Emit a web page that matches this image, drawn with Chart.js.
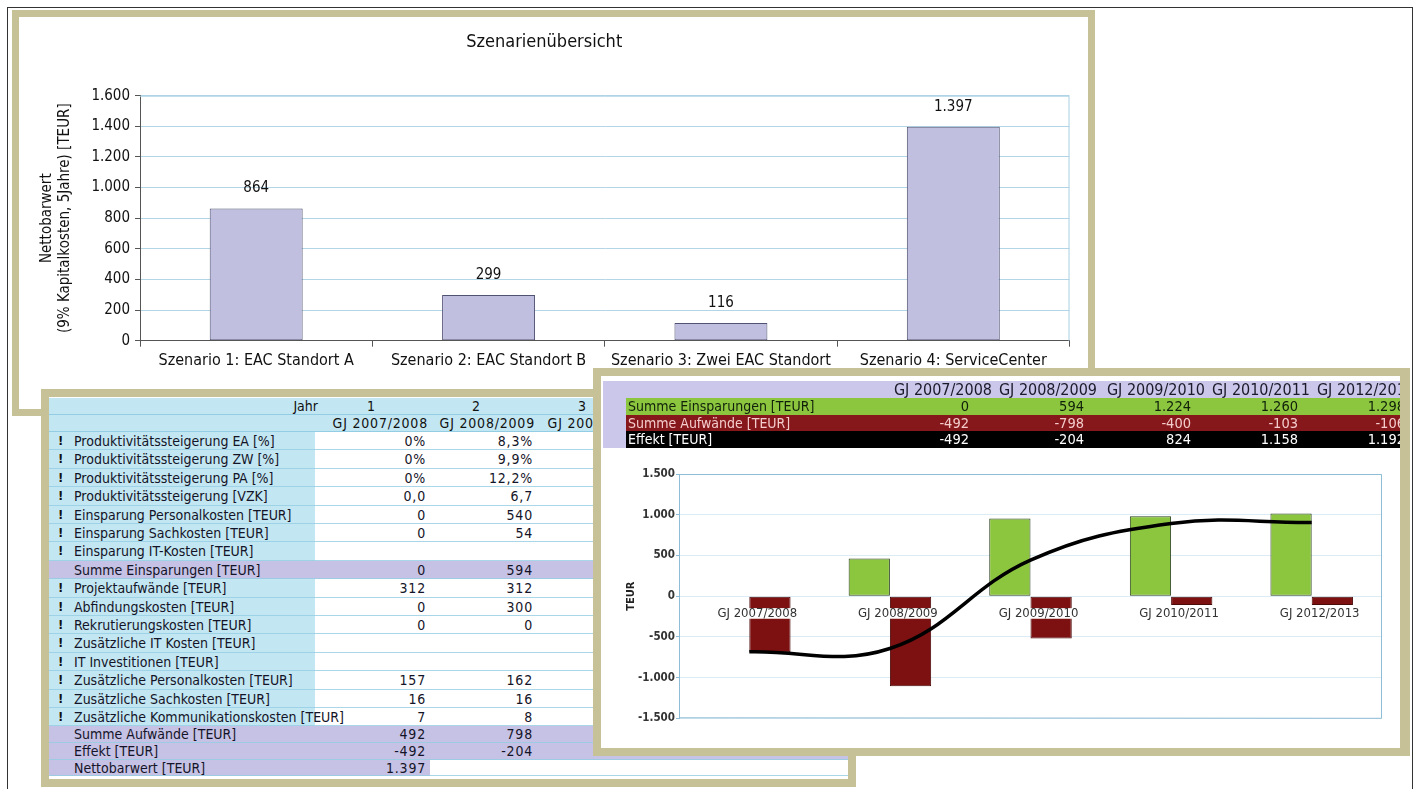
<!DOCTYPE html>
<html><head><meta charset="utf-8">
<script src="https://cdn.jsdelivr.net/npm/chart.js@4.4.1/dist/chart.umd.min.js"></script>
<style>
html,body{margin:0;padding:0;background:#fff;}
body{width:1419px;height:789px;position:relative;overflow:hidden;font-family:'DejaVu Sans Condensed','DejaVu Sans',sans-serif;color:#111;}
.frame{position:absolute;box-sizing:border-box;border:8px solid #c6c197;background:#fff;overflow:hidden;}
.abs{position:absolute;white-space:nowrap;}
</style></head><body>
<div style="position:absolute;left:7px;top:7px;width:1406px;height:800px;border:1px solid #333;box-sizing:border-box"></div>
<div id="p1" class="frame" style="left:12px;top:10px;width:1083px;height:406px;border-width:7px;">
  <canvas id="c1" width="1069" height="392" style="position:absolute;left:0;top:0;width:1069px;height:392px"></canvas>
</div>
<div id="p2" class="frame" style="left:41px;top:389px;width:815px;height:398px;"><div id="t2" class="abs" style="left:0;top:0;width:799px;height:382px;overflow:hidden"></div></div>
<div id="p3" class="frame" style="left:593px;top:368px;width:817px;height:388px;border-right-width:10px;">
  <div id="t3" class="abs" style="left:0;top:0;width:799px;height:74px;overflow:hidden"></div>
  <canvas id="c2" width="799" height="298" style="position:absolute;left:0;top:74px;width:799px;height:298px"></canvas>
</div>
<script>
// ---------- data ----------
const scenarioLabels = ['Szenario 1: EAC Standort A','Szenario 2: EAC Standort B','Szenario 3: Zwei EAC Standort','Szenario 4: ServiceCenter'];
const scenarioValues = [864, 299, 116, 1397];

const fyLabels = ['GJ 2007/2008','GJ 2008/2009','GJ 2009/2010','GJ 2010/2011','GJ 2012/2013'];
const savingsBars = [0, 463, 954, 982, 1015];
const costBars = [-688, -1105, -520, -110, -110];
const effectLine = [-684, -643, 442, 892, 905];

const summaryRowLabels = ['Summe Einsparungen [TEUR]','Summe Aufwände [TEUR]','Effekt [TEUR]'];
const summarySavings = ['0','594','1.224','1.260','1.298'];
const summaryCosts = ['-492','-798','-400','-103','-106'];
const summaryEffect = ['-492','-204','824','1.158','1.192'];

const tableYears = ['1','2','3'];
const tableRowLabels = ['Produktivitätssteigerung EA [%]','Produktivitätssteigerung ZW [%]','Produktivitätssteigerung PA [%]','Produktivitätssteigerung [VZK]','Einsparung Personalkosten [TEUR]','Einsparung Sachkosten [TEUR]','Einsparung IT-Kosten [TEUR]','Summe Einsparungen [TEUR]','Projektaufwände [TEUR]','Abfindungskosten [TEUR]','Rekrutierungskosten [TEUR]','Zusätzliche IT Kosten [TEUR]','IT Investitionen [TEUR]','Zusätzliche Personalkosten [TEUR]','Zusätzliche Sachkosten [TEUR]','Zusätzliche Kommunikationskosten [TEUR]','Summe Aufwände [TEUR]','Effekt [TEUR]','Nettobarwert [TEUR]'];
const tableYear1 = ['0%','0%','0%','0,0','0','0','','0','312','0','0','','','157','16','7','492','-492','1.397'];
const tableYear2 = ['8,3%','9,9%','12,2%','6,7','540','54','','594','312','300','0','','','162','16','8','798','-204',''];
const tableRowIsSum = [0,0,0,0,0,0,0,1,0,0,0,0,0,0,0,0,1,1,1];

// ---------- helpers ----------
const FONT = "'DejaVu Sans Condensed','DejaVu Sans',sans-serif";
Chart.defaults.font.family = FONT;
function deNum(v){
  const s = Math.abs(Math.round(v)).toString().replace(/\B(?=(\d{3})+(?!\d))/g,'.');
  return (v < 0 ? '-' : '') + s;
}
function el(parent, css, text){
  const d = document.createElement('div');
  d.className = 'abs';
  d.style.cssText += css;
  if (text !== undefined) d.textContent = text;
  parent.appendChild(d);
  return d;
}

// ---------- left table ----------
(function(){
  const t = document.getElementById('t2');
  const BLUE = '#c3e7f2', LINE = '#93cde4', PURPLE = '#c6c2e5';
  el(t, `left:0;top:1px;width:799px;height:34px;background:${BLUE};`);
  el(t, `left:0;top:17px;width:799px;height:1px;background:${LINE};`);
  el(t, `left:0;top:34px;width:799px;height:1px;background:${LINE};`);
  el(t, `left:0;top:1px;width:269px;height:17px;line-height:17px;text-align:right;font-size:14px;`, 'Jahr');
  const yearCenters = [322, 427, 533], gjRight = [379, 486, 594];
  tableYears.forEach((y,i)=>{
    el(t, `left:${yearCenters[i]-20}px;top:1px;width:40px;height:17px;line-height:17px;text-align:center;font-size:14px;`, y);
    el(t, `left:${gjRight[i]-120}px;top:18px;width:120px;height:17px;line-height:17px;text-align:right;font-size:14px;letter-spacing:0.8px;`, fyLabels[i]);
  });
  const tops = [], hs = [];
  for (let i=0;i<16;i++){ tops.push(35+18.4*i); hs.push(18.4); }
  tops.push(329.4); hs.push(16.6);
  tops.push(346); hs.push(17);
  tops.push(363); hs.push(16);
  const valRight = [377, 484];
  tableRowLabels.forEach((lab,i)=>{
    const top = tops[i], h = hs[i], sum = tableRowIsSum[i];
    const isLast = i === tableRowLabels.length-1;
    if (sum){
      el(t, `left:0;top:${top}px;width:${isLast?381:799}px;height:${h}px;background:${PURPLE};`);
    } else {
      el(t, `left:0;top:${top}px;width:266px;height:${h}px;background:${BLUE};`);
    }
    el(t, `left:0;top:${top+h-1}px;width:799px;height:1px;background:${LINE};opacity:0.8;`);
    if (!sum) el(t, `left:9px;top:${top}px;height:${h}px;line-height:${h}px;font-size:13px;font-weight:bold;`, '!');
    el(t, `left:25px;top:${top}px;height:${h}px;line-height:${h}px;font-size:14px;color:#141428;`, lab);
    [tableYear1[i], tableYear2[i]].forEach((v,c)=>{
      if (v === '') return;
      el(t, `left:${valRight[c]-100}px;top:${top}px;width:100px;height:${h}px;line-height:${h}px;text-align:right;font-size:14px;letter-spacing:0.8px;color:#141428;`, v);
    });
  });
})();

// ---------- right summary table ----------
(function(){
  const t = document.getElementById('t3');
  const PURPLE = '#cac7ea';
  el(t, `left:2px;top:5px;width:797px;height:17px;background:${PURPLE};`);
  el(t, `left:2px;top:22px;width:25px;height:50px;background:${PURPLE};`);
  const hdrRight = [391, 496, 604, 709, 814];
  fyLabels.forEach((f,i)=>{
    el(t, `left:${hdrRight[i]-140}px;top:5px;width:140px;height:17px;line-height:17px;text-align:right;font-size:16px;color:#1a1a2a;`, f);
  });
  const rows = [
    {label: summaryRowLabels[0], vals: summarySavings, bg:'#8cc63f', fg:'#10200a', top:22, h:16.5},
    {label: summaryRowLabels[1], vals: summaryCosts, bg:'#86171a', fg:'#f4cccc', top:38.5, h:16.5},
    {label: summaryRowLabels[2], vals: summaryEffect, bg:'#000000', fg:'#ffffff', top:55, h:17}
  ];
  const valRight = [368, 483, 590, 697, 804];
  rows.forEach(r=>{
    el(t, `left:25px;top:${r.top}px;width:774px;height:${r.h}px;background:${r.bg};`);
    el(t, `left:27px;top:${r.top}px;height:${r.h}px;line-height:${r.h}px;font-size:14px;color:${r.fg};`, r.label);
    r.vals.forEach((v,i)=>{
      el(t, `left:${valRight[i]-100}px;top:${r.top}px;width:100px;height:${r.h}px;line-height:${r.h}px;text-align:right;font-size:14.5px;color:${r.fg};`, v);
    });
  });
})();

// ---------- plugins ----------
const plotFrame = {
  id: 'plotFrame',
  beforeDatasetsDraw(chart, args, opts){
    const {ctx, chartArea:a} = chart;
    ctx.save();
    ctx.strokeStyle = opts.color; ctx.lineWidth = 1;
    ctx.beginPath();
    ctx.moveTo(a.left, a.top+0.5); ctx.lineTo(a.right-0.5, a.top+0.5); ctx.lineTo(a.right-0.5, a.bottom);
    if (opts.full){ ctx.lineTo(a.left, a.bottom-0.5); }
    ctx.stroke();
    ctx.restore();
  }
};
const valueLabels = {
  id: 'valueLabels',
  afterDatasetsDraw(chart, args, opts){
    if (!opts.enabled) return;
    const ctx = chart.ctx, meta = chart.getDatasetMeta(0), data = chart.data.datasets[0].data;
    ctx.save();
    ctx.font = `normal ${opts.size}px ${FONT}`;
    ctx.fillStyle = opts.color; ctx.textAlign = 'center'; ctx.textBaseline = 'middle';
    meta.data.forEach((bar,i)=> ctx.fillText(deNum(data[i]), bar.x, bar.y - opts.offset));
    ctx.restore();
  }
};
const labelsOverBars = {
  id: 'labelsOverBars',
  beforeDatasetDraw(chart, args){
    if (args.meta.type === 'line') chart.scales.x.draw(chart.chartArea);
  }
};

// ---------- top chart ----------
new Chart(document.getElementById('c1'), {
  type: 'bar',
  data: { labels: scenarioLabels, datasets: [{
    label: 'Nettobarwert', data: scenarioValues,
    backgroundColor: '#c1bfe0', borderColor: '#4f5272', borderWidth: 1, borderSkipped: false,
    barPercentage: 0.4, categoryPercentage: 1
  }]},
  plugins: [plotFrame, valueLabels],
  options: {
    responsive: false, animation: false,
    layout: { padding: { left: 0, right: 18.5, top: 0, bottom: 0 } },
    plugins: {
      legend: { display: false }, tooltip: { enabled: false },
      title: { display: true, text: 'Szenarienübersicht', color: '#111', font: { size: 18, weight: 'normal' }, padding: { top: 14.9, bottom: 42.2 } },
      plotFrame: { color: '#a9d0e4', full: false },
      valueLabels: { enabled: true, offset: 20, size: 15, color: '#111' }
    },
    scales: {
      y: {
        min: 0, max: 1600,
        ticks: { stepSize: 200, callback: v => deNum(v), color: '#111', font: { size: 15 }, padding: 5 },
        grid: { color: '#b4d5e6', tickLength: 5, tickColor: '#555' },
        border: { color: '#555' },
        title: { display: true, text: ['Nettobarwert', '(9% Kapitalkosten, 5Jahre) [TEUR]'], color: '#111', font: { size: 15, lineHeight: 1.2 }, padding: { top: 19, bottom: 0 } },
        afterFit(s){ s.width = 121; }
      },
      x: {
        grid: { display: true, drawOnChartArea: false, tickLength: 6, tickColor: '#555', color: '#555' },
        border: { color: '#555' },
        ticks: { color: '#111', font: { size: 16 }, padding: 5, maxRotation: 0, autoSkip: false },
        afterFit(s){ s.height = 68.3; }
      }
    }
  }
});

// ---------- bottom chart ----------
new Chart(document.getElementById('c2'), {
  type: 'bar',
  data: { labels: fyLabels, datasets: [
    { type: 'line', label: 'Effekt [TEUR]', data: effectLine, borderColor: '#000', borderWidth: 3.5, tension: 0.4, pointRadius: 0, fill: false, order: 0 },
    { label: 'Summe Einsparungen [TEUR]', data: savingsBars, backgroundColor: '#8cc63f', borderColor: '#2c4020', borderWidth: 1, borderSkipped: false, categoryPercentage: 0.587, barPercentage: 1, order: 1 },
    { label: 'Summe Aufwände [TEUR]', data: costBars, backgroundColor: '#7d1111', borderColor: '#4a0a0a', borderWidth: 1, borderSkipped: false, categoryPercentage: 0.587, barPercentage: 1, order: 2 }
  ]},
  plugins: [plotFrame, labelsOverBars],
  options: {
    responsive: false, animation: false,
    layout: { padding: { left: 0, right: 18, top: 24, bottom: 29.7 } },
    plugins: {
      legend: { display: false }, tooltip: { enabled: false },
      plotFrame: { color: '#8fbcd6', full: true }
    },
    scales: {
      y: {
        min: -1500, max: 1500,
        ticks: { stepSize: 500, callback: v => deNum(v), color: '#333', font: { size: 11.5, weight: 'bold' }, padding: 1 },
        grid: { color: '#dcecf4', tickLength: 3, tickColor: '#8fbcd6' },
        border: { color: '#8fbcd6' },
        title: { display: true, text: 'TEUR', color: '#222', font: { size: 11, weight: 'bold' }, padding: { top: 23.4, bottom: 0 } },
        afterFit(s){ s.width = 78; }
      },
      x: {
        position: { y: 0 },
        grid: { display: false, drawTicks: false },
        border: { display: false },
        ticks: { color: '#333', font: { size: 13 }, padding: 10, labelOffset: 8, maxRotation: 0, autoSkip: false,
                 showLabelBackdrop: true, backdropColor: '#ffffff', backdropPadding: { top: -2, bottom: -3, left: 1, right: 1 } }
      }
    }
  }
});
</script>
</body></html>
